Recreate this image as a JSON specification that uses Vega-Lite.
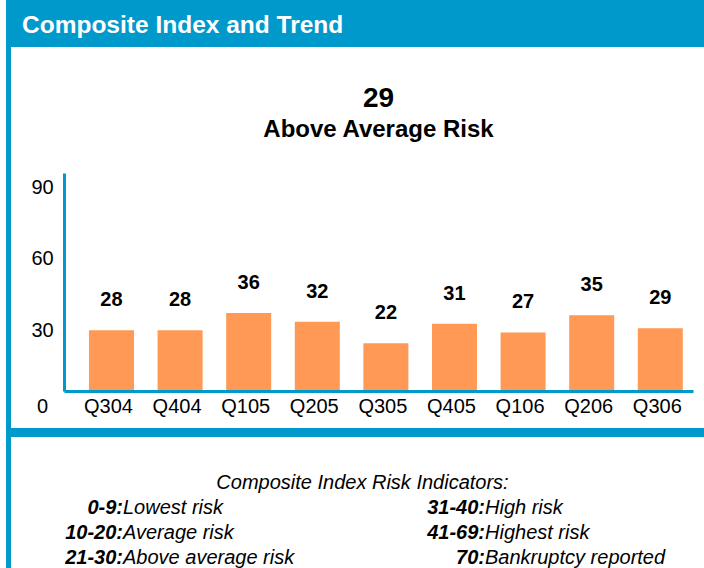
{
  "$schema": "https://vega.github.io/schema/vega-lite/v6.json",
  "background": "white",
  "padding": {"left": 6, "top": 0, "right": 0, "bottom": 0},
  "spacing": 0,
  "bounds": "flush",
  "config": {
    "view": {"stroke": null},
    "font": "Liberation Sans",
    "text": {"font": "Liberation Sans"}
  },
  "datasets": {
    "index": [
      {"quarter": "Q304", "score": 28},
      {"quarter": "Q404", "score": 28},
      {"quarter": "Q105", "score": 36},
      {"quarter": "Q205", "score": 32},
      {"quarter": "Q305", "score": 22},
      {"quarter": "Q405", "score": 31},
      {"quarter": "Q106", "score": 27},
      {"quarter": "Q206", "score": 35},
      {"quarter": "Q306", "score": 29}
    ],
    "risk": [
      {"range": "0-9:", "desc": "Lowest risk", "side": "left", "line": 1},
      {"range": "10-20:", "desc": "Average risk", "side": "left", "line": 2},
      {"range": "21-30:", "desc": "Above average risk", "side": "left", "line": 3},
      {"range": "31-40:", "desc": "High risk", "side": "right", "line": 1},
      {"range": "41-69:", "desc": "Highest risk", "side": "right", "line": 2},
      {"range": "70:", "desc": "Bankruptcy reported", "side": "right", "line": 3}
    ],
    "none": []
  },
  "hconcat": [
    {
      "width": 5,
      "height": 568,
      "view": {"fill": "#0099CC", "stroke": null},
      "data": {"name": "none"},
      "mark": "rect"
    },
    {
      "spacing": 0,
      "bounds": "flush",
      "vconcat": [
        {
          "width": 693,
          "height": 47,
          "view": {"fill": "#0099CC", "stroke": null},
          "data": {"values": [{"label": "Composite Index and Trend"}]},
          "mark": {"type": "text", "align": "left", "baseline": "middle", "dx": 11, "dy": 2, "color": "white", "fontSize": 24.5, "fontWeight": "bold", "font": "Liberation Sans"},
          "encoding": {
            "text": {"field": "label"},
            "x": {"datum": 0, "scale": {"domain": [0, 1]}, "axis": null}
          }
        },
        {
          "width": 693,
          "height": 126,
          "data": {"name": "none"},
          "mark": "rect"
        },
        {
          "spacing": 0,
          "bounds": "flush",
          "hconcat": [
            {
              "width": 53,
              "height": 218,
              "data": {"name": "none"},
              "mark": "rect"
            },
            {
              "width": 629,
              "height": 218,
              "data": {"name": "index"},
              "title": {
                "text": "29",
                "subtitle": "Above Average Risk",
                "anchor": "middle",
                "font": "Liberation Sans",
                "fontSize": 28,
                "fontWeight": "bold",
                "color": "black",
                "subtitleFont": "Liberation Sans",
                "subtitleFontSize": 24,
                "subtitleFontWeight": "bold",
                "subtitleColor": "black",
                "subtitlePadding": 5,
                "offset": 31
              },
              "encoding": {
                "x": {
                  "field": "quarter",
                  "type": "nominal",
                  "sort": null,
                  "scale": {"paddingInner": 0.344, "paddingOuter": 0.2565, "align": 0.71},
                  "axis": {
                    "title": null,
                    "domainColor": "#0099CC",
                    "domainWidth": 3,
                    "ticks": false,
                    "tickSize": 0,
                    "labelAngle": 0,
                    "labelFont": "Liberation Sans",
                    "labelFontSize": 20,
                    "labelColor": "black",
                    "labelPadding": 5,
                    "labelOffset": -3,
                    "zindex": 1
                  }
                },
                "y": {
                  "field": "score",
                  "type": "quantitative",
                  "scale": {"domain": [0, 100.6], "nice": false, "zero": true},
                  "axis": {
                    "title": null,
                    "values": [0, 30, 60, 90],
                    "grid": false,
                    "domainColor": "#0099CC",
                    "domainWidth": 3,
                    "ticks": false,
                    "tickSize": 0,
                    "labelFont": "Liberation Sans",
                    "labelFontSize": 20,
                    "labelColor": "black",
                    "labelAlign": "center",
                    "labelBaseline": "middle",
                    "labelPadding": 22,
                    "labelOffset": {
                      "condition": [
                        {"test": "datum.value === 0", "value": 15},
                        {"test": "datum.value === 30", "value": 5},
                        {"test": "datum.value === 90", "value": -8}
                      ],
                      "value": -2
                    },
                    "zindex": 1
                  }
                }
              },
              "layer": [
                {"mark": {"type": "bar", "color": "#FF9955"}},
                {
                  "mark": {"type": "text", "dy": -30, "baseline": "middle", "fontSize": 20, "fontWeight": "bold", "color": "black", "font": "Liberation Sans"},
                  "encoding": {"text": {"field": "score", "type": "quantitative"}}
                }
              ]
            }
          ]
        },
        {
          "width": 693,
          "height": 255,
          "data": {"name": "none"},
          "mark": "rect"
        },
        {
          "width": 693,
          "height": 9,
          "view": {"fill": "#0099CC", "stroke": null},
          "data": {"name": "none"},
          "mark": "rect"
        },
        {
          "width": 693,
          "height": 131,
          "layer": [
            {
              "data": {"values": [{"heading": "Composite Index Risk Indicators:", "line": 0}]},
              "mark": {"type": "text", "baseline": "middle", "fontStyle": "italic", "fontSize": 20, "dx": 5, "color": "black", "font": "Liberation Sans"},
              "encoding": {
                "text": {"field": "heading"},
                "y": {"field": "line", "type": "ordinal", "scale": {"type": "point", "domain": [0, 1, 2, 3], "range": [46, 121], "padding": 0}, "axis": null}
              }
            },
            {
              "data": {"name": "risk"},
              "mark": {"type": "text", "align": "right", "baseline": "middle", "fontStyle": "italic", "fontWeight": "bold", "fontSize": 20, "color": "black", "font": "Liberation Sans"},
              "encoding": {
                "text": {"field": "range"},
                "x": {"field": "side", "type": "nominal", "scale": {"type": "point", "domain": ["left", "right"], "range": [112, 474], "padding": 0}, "axis": null},
                "y": {"field": "line", "type": "ordinal", "scale": {"type": "point", "domain": [0, 1, 2, 3], "range": [46, 121], "padding": 0}, "axis": null}
              }
            },
            {
              "data": {"name": "risk"},
              "mark": {"type": "text", "align": "left", "baseline": "middle", "fontStyle": "italic", "fontSize": 20, "color": "black", "font": "Liberation Sans"},
              "encoding": {
                "text": {"field": "desc"},
                "x": {"field": "side", "type": "nominal", "scale": {"type": "point", "domain": ["left", "right"], "range": [112, 474], "padding": 0}, "axis": null},
                "y": {"field": "line", "type": "ordinal", "scale": {"type": "point", "domain": [0, 1, 2, 3], "range": [46, 121], "padding": 0}, "axis": null}
              }
            }
          ]
        }
      ]
    }
  ]
}
